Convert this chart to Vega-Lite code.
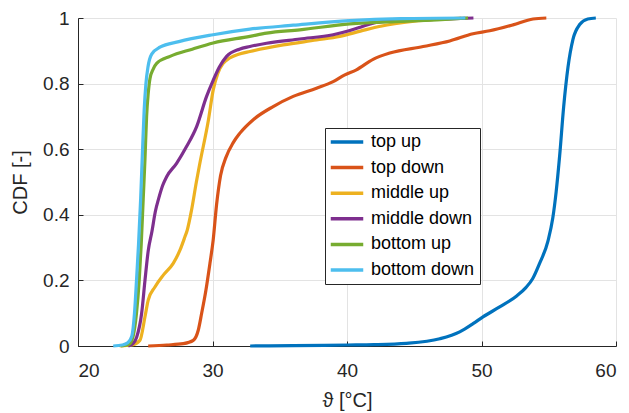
{
  "$schema": "https://vega.github.io/schema/vega-lite/v6.json",
  "width": 538,
  "height": 328,
  "autosize": {"type": "none"},
  "padding": {"left": 78, "top": 18, "right": 13, "bottom": 67},
  "background": "white",
  "config": {
    "view": {"stroke": null},
    "font": "Liberation Sans"
  },
  "data": {
    "values": [
      {"s": "top up", "x": 32.8, "y": 0},
      {"s": "top up", "x": 36, "y": 0.001},
      {"s": "top up", "x": 40, "y": 0.003},
      {"s": "top up", "x": 42, "y": 0.004},
      {"s": "top up", "x": 44.42, "y": 0.008},
      {"s": "top up", "x": 46.9, "y": 0.022},
      {"s": "top up", "x": 48.38, "y": 0.043},
      {"s": "top up", "x": 49.37, "y": 0.068},
      {"s": "top up", "x": 50.11, "y": 0.089},
      {"s": "top up", "x": 51.35, "y": 0.119},
      {"s": "top up", "x": 52.59, "y": 0.152},
      {"s": "top up", "x": 53.3, "y": 0.178},
      {"s": "top up", "x": 53.8, "y": 0.205},
      {"s": "top up", "x": 54.32, "y": 0.252},
      {"s": "top up", "x": 54.94, "y": 0.32},
      {"s": "top up", "x": 55.3, "y": 0.39},
      {"s": "top up", "x": 55.55, "y": 0.47},
      {"s": "top up", "x": 55.81, "y": 0.58},
      {"s": "top up", "x": 56.11, "y": 0.73},
      {"s": "top up", "x": 56.43, "y": 0.85},
      {"s": "top up", "x": 56.8, "y": 0.935},
      {"s": "top up", "x": 57.3, "y": 0.98},
      {"s": "top up", "x": 57.9, "y": 0.997},
      {"s": "top up", "x": 58.5, "y": 1.0},

      {"s": "top down", "x": 25.22, "y": 0},
      {"s": "top down", "x": 26.6, "y": 0.003},
      {"s": "top down", "x": 27.83, "y": 0.007},
      {"s": "top down", "x": 28.57, "y": 0.017},
      {"s": "top down", "x": 28.94, "y": 0.048},
      {"s": "top down", "x": 29.19, "y": 0.099},
      {"s": "top down", "x": 29.51, "y": 0.17},
      {"s": "top down", "x": 29.81, "y": 0.252},
      {"s": "top down", "x": 30.05, "y": 0.323},
      {"s": "top down", "x": 30.3, "y": 0.43},
      {"s": "top down", "x": 30.6, "y": 0.52},
      {"s": "top down", "x": 31.0, "y": 0.575},
      {"s": "top down", "x": 31.54, "y": 0.62},
      {"s": "top down", "x": 32.04, "y": 0.649},
      {"s": "top down", "x": 33.03, "y": 0.69},
      {"s": "top down", "x": 34.51, "y": 0.73},
      {"s": "top down", "x": 36.0, "y": 0.761},
      {"s": "top down", "x": 37.73, "y": 0.786},
      {"s": "top down", "x": 38.97, "y": 0.806},
      {"s": "top down", "x": 39.8, "y": 0.826},
      {"s": "top down", "x": 40.7, "y": 0.842},
      {"s": "top down", "x": 41.94, "y": 0.874},
      {"s": "top down", "x": 43.18, "y": 0.893},
      {"s": "top down", "x": 45.66, "y": 0.913},
      {"s": "top down", "x": 47.64, "y": 0.93},
      {"s": "top down", "x": 49.37, "y": 0.952},
      {"s": "top down", "x": 50.61, "y": 0.961},
      {"s": "top down", "x": 52.34, "y": 0.979},
      {"s": "top down", "x": 53.83, "y": 0.997},
      {"s": "top down", "x": 54.82, "y": 1.0},

      {"s": "middle up", "x": 23.1, "y": 0},
      {"s": "middle up", "x": 24.0, "y": 0.003},
      {"s": "middle up", "x": 24.6, "y": 0.017},
      {"s": "middle up", "x": 24.98, "y": 0.089},
      {"s": "middle up", "x": 25.22, "y": 0.14},
      {"s": "middle up", "x": 25.72, "y": 0.18},
      {"s": "middle up", "x": 26.34, "y": 0.216},
      {"s": "middle up", "x": 27.08, "y": 0.252},
      {"s": "middle up", "x": 27.58, "y": 0.292},
      {"s": "middle up", "x": 27.95, "y": 0.333},
      {"s": "middle up", "x": 28.12, "y": 0.353},
      {"s": "middle up", "x": 28.44, "y": 0.414},
      {"s": "middle up", "x": 28.8, "y": 0.5},
      {"s": "middle up", "x": 29.06, "y": 0.557},
      {"s": "middle up", "x": 29.7, "y": 0.69},
      {"s": "middle up", "x": 30.05, "y": 0.78},
      {"s": "middle up", "x": 30.4, "y": 0.832},
      {"s": "middle up", "x": 30.8, "y": 0.862},
      {"s": "middle up", "x": 31.29, "y": 0.878},
      {"s": "middle up", "x": 32.0, "y": 0.89},
      {"s": "middle up", "x": 32.78, "y": 0.898},
      {"s": "middle up", "x": 35.26, "y": 0.918},
      {"s": "middle up", "x": 37.73, "y": 0.933},
      {"s": "middle up", "x": 39.46, "y": 0.944},
      {"s": "middle up", "x": 41.0, "y": 0.96},
      {"s": "middle up", "x": 42.5, "y": 0.975},
      {"s": "middle up", "x": 45.0, "y": 0.99},
      {"s": "middle up", "x": 48.5, "y": 1.0},

      {"s": "middle down", "x": 23.74, "y": 0},
      {"s": "middle down", "x": 24.1, "y": 0.008},
      {"s": "middle down", "x": 24.36, "y": 0.027},
      {"s": "middle down", "x": 24.73, "y": 0.099},
      {"s": "middle down", "x": 24.98, "y": 0.2},
      {"s": "middle down", "x": 25.22, "y": 0.29},
      {"s": "middle down", "x": 25.5, "y": 0.35},
      {"s": "middle down", "x": 25.75, "y": 0.41},
      {"s": "middle down", "x": 26.0, "y": 0.45},
      {"s": "middle down", "x": 26.3, "y": 0.49},
      {"s": "middle down", "x": 26.59, "y": 0.516},
      {"s": "middle down", "x": 27.33, "y": 0.557},
      {"s": "middle down", "x": 28.07, "y": 0.608},
      {"s": "middle down", "x": 28.82, "y": 0.669},
      {"s": "middle down", "x": 29.56, "y": 0.761},
      {"s": "middle down", "x": 30.05, "y": 0.81},
      {"s": "middle down", "x": 30.5, "y": 0.85},
      {"s": "middle down", "x": 31.05, "y": 0.883},
      {"s": "middle down", "x": 32.0, "y": 0.905},
      {"s": "middle down", "x": 32.78, "y": 0.913},
      {"s": "middle down", "x": 34.02, "y": 0.923},
      {"s": "middle down", "x": 36.49, "y": 0.936},
      {"s": "middle down", "x": 38.97, "y": 0.949},
      {"s": "middle down", "x": 40.21, "y": 0.962},
      {"s": "middle down", "x": 41.0, "y": 0.972},
      {"s": "middle down", "x": 42.0, "y": 0.985},
      {"s": "middle down", "x": 43.0, "y": 0.99},
      {"s": "middle down", "x": 46.0, "y": 0.995},
      {"s": "middle down", "x": 49.4, "y": 1.0},

      {"s": "bottom up", "x": 23.2, "y": 0},
      {"s": "bottom up", "x": 23.8, "y": 0.005},
      {"s": "bottom up", "x": 24.1, "y": 0.03},
      {"s": "bottom up", "x": 24.35, "y": 0.1},
      {"s": "bottom up", "x": 24.55, "y": 0.2},
      {"s": "bottom up", "x": 24.7, "y": 0.31},
      {"s": "bottom up", "x": 24.85, "y": 0.45},
      {"s": "bottom up", "x": 24.98, "y": 0.57},
      {"s": "bottom up", "x": 25.1, "y": 0.7},
      {"s": "bottom up", "x": 25.22, "y": 0.77},
      {"s": "bottom up", "x": 25.35, "y": 0.815},
      {"s": "bottom up", "x": 25.6, "y": 0.845},
      {"s": "bottom up", "x": 25.85, "y": 0.862},
      {"s": "bottom up", "x": 26.84, "y": 0.883},
      {"s": "bottom up", "x": 28.5, "y": 0.905},
      {"s": "bottom up", "x": 30.05, "y": 0.924},
      {"s": "bottom up", "x": 32.78, "y": 0.944},
      {"s": "bottom up", "x": 34.02, "y": 0.954},
      {"s": "bottom up", "x": 36.49, "y": 0.964},
      {"s": "bottom up", "x": 40.21, "y": 0.982},
      {"s": "bottom up", "x": 44.0, "y": 0.99},
      {"s": "bottom up", "x": 47.0, "y": 0.995},
      {"s": "bottom up", "x": 49.0, "y": 1.0},

      {"s": "bottom down", "x": 22.62, "y": 0},
      {"s": "bottom down", "x": 23.3, "y": 0.003},
      {"s": "bottom down", "x": 23.7, "y": 0.01},
      {"s": "bottom down", "x": 24.0, "y": 0.03},
      {"s": "bottom down", "x": 24.2, "y": 0.1},
      {"s": "bottom down", "x": 24.35, "y": 0.2},
      {"s": "bottom down", "x": 24.5, "y": 0.31},
      {"s": "bottom down", "x": 24.66, "y": 0.45},
      {"s": "bottom down", "x": 24.8, "y": 0.6},
      {"s": "bottom down", "x": 24.92, "y": 0.72},
      {"s": "bottom down", "x": 25.05, "y": 0.8},
      {"s": "bottom down", "x": 25.2, "y": 0.85},
      {"s": "bottom down", "x": 25.48, "y": 0.89},
      {"s": "bottom down", "x": 26.09, "y": 0.911},
      {"s": "bottom down", "x": 27.5, "y": 0.928},
      {"s": "bottom down", "x": 30.05, "y": 0.949},
      {"s": "bottom down", "x": 32.78, "y": 0.966},
      {"s": "bottom down", "x": 36.0, "y": 0.978},
      {"s": "bottom down", "x": 40.2, "y": 0.992},
      {"s": "bottom down", "x": 44.0, "y": 0.998},
      {"s": "bottom down", "x": 48.8, "y": 1.0}
    ]
  },
  "mark": {"type": "line", "strokeWidth": 3.2, "strokeCap": "butt", "strokeJoin": "round", "interpolate": "monotone", "clip": false},
  "encoding": {
    "x": {
      "field": "x",
      "type": "quantitative",
      "scale": {"domain": [20, 60], "nice": false, "zero": false},
      "axis": {
        "values": [20, 30, 40, 50, 60],
        "format": "d",
        "title": "ϑ [°C]",
        "grid": true,
        "gridColor": "#e3e3e3",
        "gridWidth": 1,
        "domainColor": "#262626",
        "domainWidth": 1,
        "tickColor": "#262626",
        "tickSize": -5,
        "tickWidth": 1,
        "labelPadding": 20,
        "labelFontSize": 19,
        "labelColor": "#262626",
        "labelFont": "Liberation Sans",
        "titleFont": "Liberation Sans",
        "titleFontSize": 20,
        "titleFontWeight": "normal",
        "titleColor": "#262626",
        "titlePadding": 10
      }
    },
    "y": {
      "field": "y",
      "type": "quantitative",
      "scale": {"domain": [0, 1], "nice": false},
      "axis": {
        "values": [0, 0.2, 0.4, 0.6, 0.8, 1],
        "format": "~g",
        "title": "CDF [-]",
        "grid": true,
        "gridColor": "#e3e3e3",
        "gridWidth": 1,
        "domainColor": "#262626",
        "domainWidth": 1,
        "tickColor": "#262626",
        "tickSize": -5,
        "tickWidth": 1,
        "labelPadding": 14,
        "labelFontSize": 19,
        "labelColor": "#262626",
        "labelFont": "Liberation Sans",
        "titleFont": "Liberation Sans",
        "titleFontSize": 20,
        "titleFontWeight": "normal",
        "titleColor": "#262626",
        "titlePadding": 12
      }
    },
    "color": {
      "field": "s",
      "type": "nominal",
      "sort": ["top up", "top down", "middle up", "middle down", "bottom up", "bottom down"],
      "scale": {
        "domain": ["top up", "top down", "middle up", "middle down", "bottom up", "bottom down"],
        "range": ["#0072BD", "#D95319", "#EDB120", "#7E2F8E", "#77AC30", "#4DBEEE"]
      },
      "legend": {
        "orient": "none",
        "legendX": 247,
        "legendY": 110,
        "title": null,
        "padding": 5,
        "strokeColor": "#262626",
        "fillColor": "white",
        "cornerRadius": 0,
        "symbolType": "M-4,0L4,0",
        "symbolSize": 66,
        "symbolStrokeWidth": 3.5,
        "symbolOffset": 8,
        "labelOffset": 15,
        "labelFontSize": 18,
        "labelFont": "Liberation Sans",
        "labelColor": "black",
        "rowPadding": 7.6,
        "labelLimit": 200
      }
    },
    "order": {"field": "x", "type": "quantitative"}
  }
}
